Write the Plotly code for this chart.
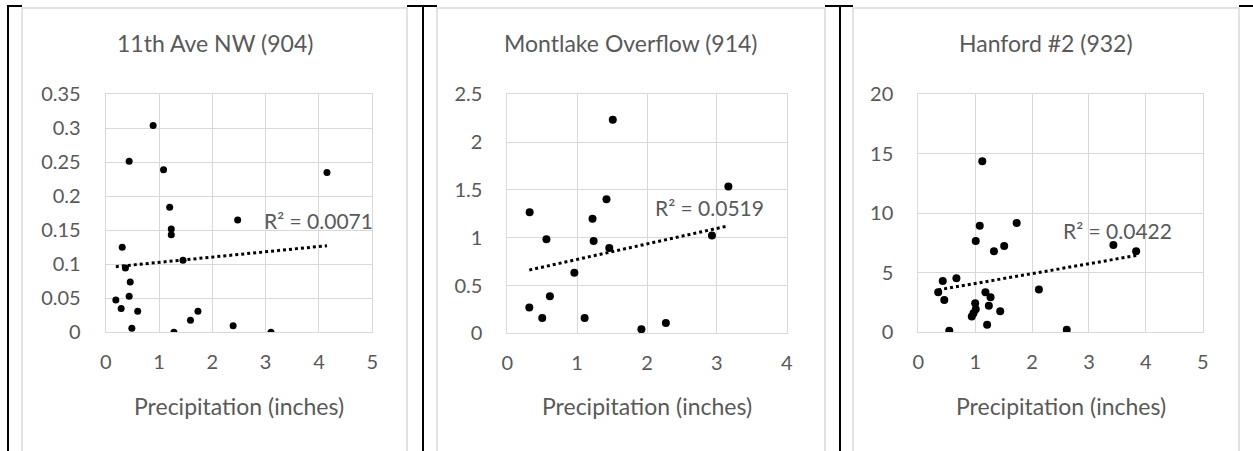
import numpy as np
import plotly.graph_objects as go

W, H = 1253, 451

# ---------------- data ----------------
titles = ["11th Ave NW (904)", "Montlake Overflow (914)", "Hanford #2 (932)"]
x_title = "Precipitation (inches)"

p1_x = [0.89, 0.44, 1.085, 4.15, 1.20, 2.475, 1.23, 1.23, 0.31, 1.45, 0.37,
        0.46, 0.44, 0.19, 0.29, 0.60, 1.73, 1.59, 0.49, 2.39, 1.28, 3.10]
p1_y = [0.304, 0.2515, 0.239, 0.235, 0.184, 0.165, 0.152, 0.1436, 0.125, 0.106, 0.0946,
        0.074, 0.053, 0.0475, 0.035, 0.031, 0.031, 0.0176, 0.006, 0.0098, 0.0, 0.0]

p2_x = [1.51, 3.165, 1.42, 0.32, 1.22, 0.56, 1.236, 1.46, 2.93, 0.96, 0.61,
        0.315, 0.50, 1.107, 2.27, 1.92]
p2_y = [2.234, 1.535, 1.402, 1.266, 1.199, 0.9825, 0.965, 0.892, 1.024, 0.633, 0.388,
        0.269, 0.161, 0.161, 0.108, 0.042]

p3_x = [1.125, 1.73, 1.08, 1.01, 1.51, 1.33, 3.43, 3.83, 0.43, 0.67, 0.35, 0.457,
        2.12, 1.18, 1.27, 1.00, 1.24, 1.01, 0.97, 0.94, 1.44, 1.21, 0.545, 2.61]
p3_y = [14.37, 9.19, 8.96, 7.68, 7.25, 6.81, 7.34, 6.81, 4.31, 4.54, 3.36, 2.72,
        3.59, 3.36, 2.94, 2.44, 2.24, 1.93, 1.60, 1.32, 1.76, 0.64, 0.14, 0.22]

r2_labels = ["R² = 0.0071", "R² = 0.0519", "R² = 0.0422"]

x_ticks = [[0, 1, 2, 3, 4, 5], [0, 1, 2, 3, 4], [0, 1, 2, 3, 4, 5]]
x_ticktext = [["0", "1", "2", "3", "4", "5"], ["0", "1", "2", "3", "4"], ["0", "1", "2", "3", "4", "5"]]
y_ticks = [[0, 0.05, 0.1, 0.15, 0.2, 0.25, 0.3, 0.35],
           [0, 0.5, 1, 1.5, 2, 2.5],
           [0, 5, 10, 15, 20]]
y_ticktext = [["0", "0.05", "0.1", "0.15", "0.2", "0.25", "0.3", "0.35"],
              ["0", "0.5", "1", "1.5", "2", "2.5"],
              ["0", "5", "10", "15", "20"]]

series = [(p1_x, p1_y), (p2_x, p2_y), (p3_x, p3_y)]
marker_sizes = [7, 8, 8]

# ---------------- layout geometry (pixels) ----------------
plot_boxes = [  # left, right, top, bottom
    (105.7, 372.3, 94.3, 332.3),
    (507.3, 786.7, 94.3, 333.3),
    (918.3, 1202.7, 94.3, 332.3),
]
frames = [(22, 407), (437, 825), (853, 1239)]
r2_pos = [(262, 220), (653, 207), (1061, 230)]

GRID = "#d9d9d9"
TXT = "#595959"
FONT = "Lato, Open Sans, sans-serif"

def px(x):
    return x / W

def py(y):
    return 1 - y / H

fig = go.Figure()
annotations = []
shapes = []

# black table lines
black = dict(type="line", xref="paper", yref="paper", line=dict(color="black", width=2), layer="below")
for x in [8, 423, 840]:
    shapes.append(dict(black, x0=px(x), x1=px(x), y0=py(5), y1=py(H + 2)))
for a, b in [(7, 22), (407, 437), (825, 853), (1239, W)]:
    shapes.append(dict(black, x0=px(a), x1=px(b), y0=py(6), y1=py(6)))

for i, (xs, ys) in enumerate(series):
    L, R, T, B = plot_boxes[i]
    xa = "xaxis" if i == 0 else f"xaxis{i+1}"
    ya = "yaxis" if i == 0 else f"yaxis{i+1}"
    xr = "x" if i == 0 else f"x{i+1}"
    yr = "y" if i == 0 else f"y{i+1}"

    # panel frame
    fl, fr = frames[i]
    shapes.append(dict(type="rect", xref="paper", yref="paper",
                       x0=px(fl), x1=px(fr), y0=py(8), y1=py(H + 3),
                       line=dict(color=GRID, width=1.5), layer="below"))

    fig.add_trace(go.Scatter(x=xs, y=ys, mode="markers", xaxis=xr, yaxis=yr,
                             marker=dict(color="black", size=marker_sizes[i]),
                             showlegend=False, hoverinfo="x+y"))
    # linear trendline from the data
    xs_a = np.array(xs)
    ys_a = np.array(ys)
    k, c = np.polyfit(xs_a, ys_a, 1)
    tx = np.array([xs_a.min(), xs_a.max()])
    fig.add_trace(go.Scatter(x=tx, y=k * tx + c, mode="lines", xaxis=xr, yaxis=yr,
                             line=dict(color="black", width=3, dash="dot"),
                             showlegend=False, hoverinfo="skip"))

    fig.layout[xa] = dict(domain=[px(L), px(R)], range=[x_ticks[i][0], x_ticks[i][-1]],
                          tickvals=x_ticks[i], ticktext=x_ticktext[i],
                          showgrid=True, gridcolor=GRID, gridwidth=1,
                          showline=True, linecolor=GRID, linewidth=1, mirror=True,
                          zeroline=False, ticks="", ticklabelstandoff=12,
                          tickfont=dict(family=FONT, size=20, color=TXT),
                          anchor=yr, fixedrange=True, automargin=False)
    fig.layout[ya] = dict(domain=[py(B), py(T)], range=[y_ticks[i][0], y_ticks[i][-1]],
                          tickvals=y_ticks[i], ticktext=y_ticktext[i],
                          showgrid=True, gridcolor=GRID, gridwidth=1,
                          showline=True, linecolor=GRID, linewidth=1, mirror=True,
                          zeroline=False, ticks="", ticklabelstandoff=20,
                          tickfont=dict(family=FONT, size=20, color=TXT),
                          anchor=xr, fixedrange=True, automargin=False)

    # panel title
    annotations.append(dict(text=titles[i], xref="paper", yref="paper",
                            x=px((fl + fr) / 2), y=py(43), xanchor="center", yanchor="middle",
                            showarrow=False, font=dict(family=FONT, size=23, color=TXT)))
    # axis title
    annotations.append(dict(text=x_title, xref="paper", yref="paper",
                            x=px((L + R) / 2), y=py(406), xanchor="center", yanchor="middle",
                            showarrow=False, font=dict(family=FONT, size=23, color=TXT)))
    # R^2
    rx, ry = r2_pos[i]
    annotations.append(dict(text=r2_labels[i], xref="paper", yref="paper",
                            x=px(rx), y=py(ry), xanchor="left", yanchor="middle",
                            showarrow=False, font=dict(family=FONT, size=21, color=TXT)))

fig.update_layout(width=W, height=H, margin=dict(l=0, r=0, t=0, b=0, pad=0),
                  paper_bgcolor="white", plot_bgcolor="white",
                  shapes=shapes, annotations=annotations, showlegend=False)

post = """
var st=document.createElement('style');
st.innerHTML='html,body{margin:0 !important;padding:0 !important;overflow:hidden;background:#ffffff;}';
document.head.appendChild(st);
"""
fig.write_html("out.html", config=dict(displayModeBar=False), post_script=post)
